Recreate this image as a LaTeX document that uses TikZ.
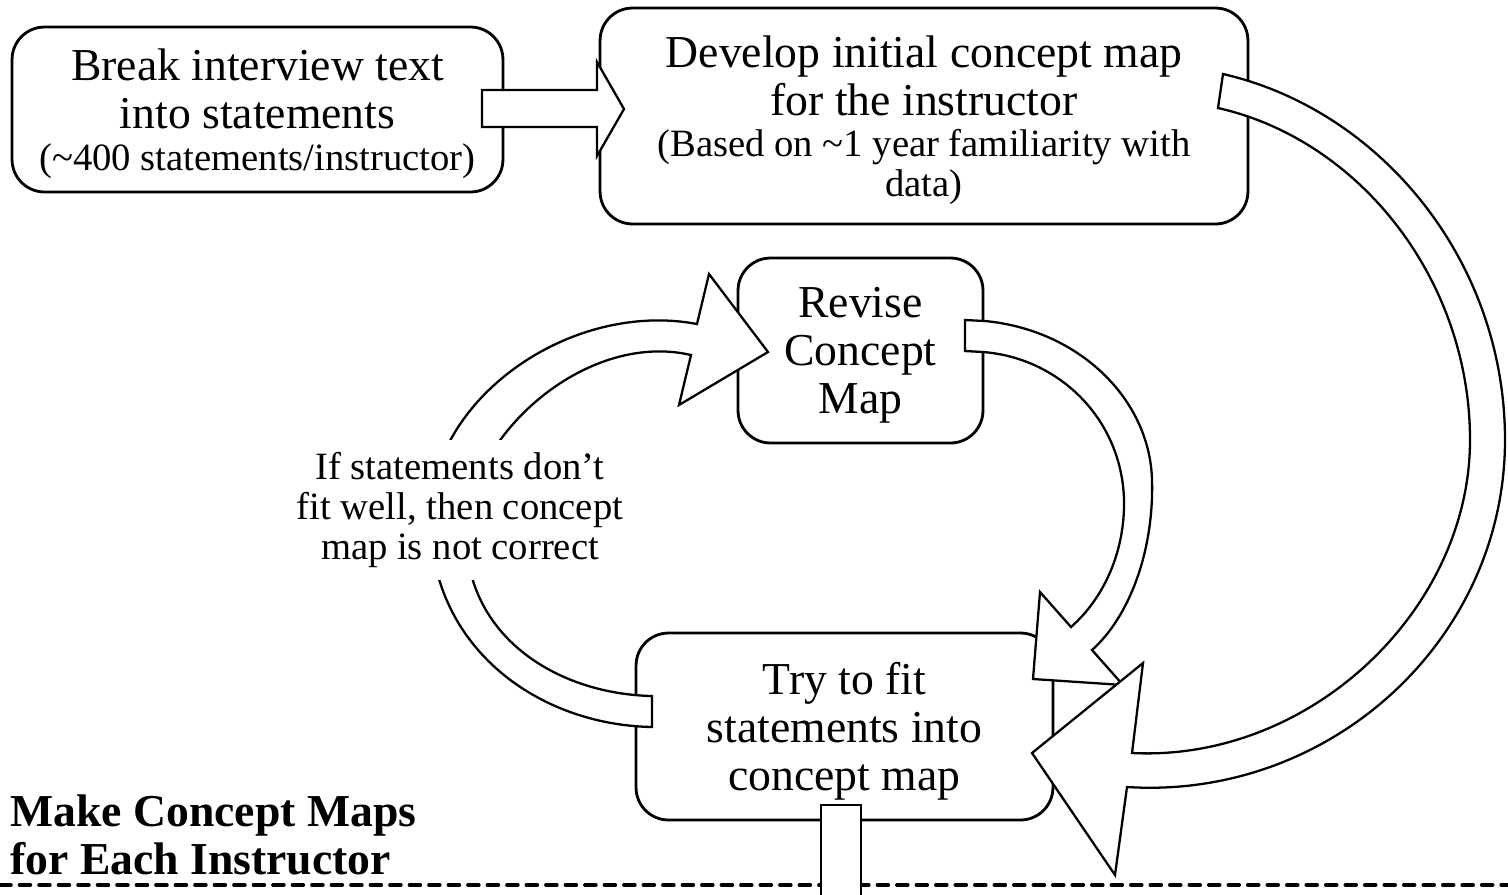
\documentclass[tikz,border=0pt]{standalone}
\usepackage{fontspec}
\setmainfont{Liberation Serif}
\newcommand\bigtxt{\fontsize{26}{27.5}\selectfont}
\newcommand\smalltxt{\fontsize{22}{22.7}\selectfont}

\begin{document}
\begin{tikzpicture}[x=0.02cm,y=-0.02cm,line cap=round,line join=round,
  stepbox/.style={draw,line width=1.6pt,rounded corners=0.65cm,fill=white,
    align=center,font=\bigtxt,inner sep=0pt,text depth=0pt},
  blockarrow/.style={draw,line width=1.3pt,fill=white,line join=miter}]
  \clip (0,0) rectangle (1508,894);
  % the four steps
  \node[stepbox,minimum width=9.82cm,minimum height=3.3cm] (break) at (257.5,109.5)
    {Break interview text\\into statements\\[-4pt]{\smalltxt (\textasciitilde400 statements/instructor)}};
  \node[stepbox,minimum width=12.96cm,minimum height=4.32cm] (develop) at (924,116)
    {Develop initial concept map\\for the instructor\\[-4pt]{\smalltxt (Based on \textasciitilde1 year familiarity with}\\[-5pt]{\smalltxt data)}};
  \node[stepbox,minimum width=4.9cm,minimum height=3.7cm] (revise) at (860.5,350.5)
    {Revise\\Concept\\Map};
  \node[stepbox,minimum width=8.34cm,minimum height=3.74cm] (tryfit) at (844.5,726.5)
    {Try to fit\\statements into\\concept map};
  % block arrows
  \draw[blockarrow] (482,90) -- (597,90) -- (597,62) -- (624,109) -- (597,156)
    -- (597,127) -- (482,127) -- cycle;
  \draw[blockarrow] (652,727) -- (652,696) .. controls (560,694) and (470,640) .. (466,540)
    .. controls (462,440) and (584,330) .. (691,355) -- (679,405) -- (768,352)
    -- (709,274) -- (697,324) .. controls (570,300) and (428,400) .. (430,520)
    .. controls (432,650) and (540,725) .. (652,727) -- cycle;
  \draw[blockarrow] (965,320) -- (985,321) .. controls (1080,330) and (1150,400) .. (1152,480)
    .. controls (1154,550) and (1130,616) .. (1092,650) -- (1123,685) -- (1033,679)
    -- (1040,592) -- (1071,627) .. controls (1105,597) and (1125,550) .. (1124,500)
    .. controls (1122,420) and (1060,358) .. (983,352) -- (965,351) -- cycle;
  \draw[blockarrow] (1223,74) .. controls (1380,110) and (1505,260) .. (1505,440)
    .. controls (1505,640) and (1330,800) .. (1127,787) -- (1115,875) -- (1032,753)
    -- (1143,663) -- (1132,753) .. controls (1310,762) and (1470,610) .. (1470,440)
    .. controls (1470,280) and (1360,140) .. (1218,108) -- cycle;
  % loop label
  \node[fill=white,inner sep=0pt,minimum height=2.8cm,align=center,font=\smalltxt] (notfit) at (460,510)
    {If statements don't\\fit well, then concept\\map is not correct};
  % section
  \node[anchor=west,align=left,font=\bigtxt\bfseries,inner sep=0pt] (title) at (10,835)
    {Make Concept Maps\\for Each Instructor};
  \draw[line width=2pt,dash pattern=on 0.22cm off 0.17cm] (0,885) -- (1508,885);
  \draw[blockarrow] (821,805) rectangle (861,900);
\end{tikzpicture}
\end{document}
